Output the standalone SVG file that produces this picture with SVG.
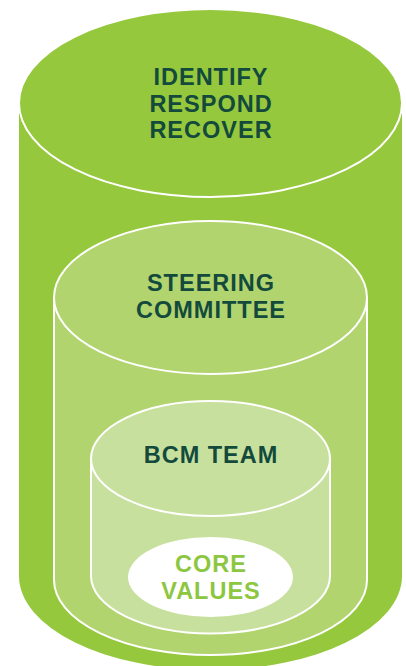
<svg xmlns="http://www.w3.org/2000/svg" width="406" height="666" viewBox="0 0 406 666">
<style>
.lbl{font-family:"Liberation Sans",Arial,sans-serif;font-weight:bold;font-size:23.5px;fill:#134a3c;text-anchor:middle;letter-spacing:1px}
.core{fill:#8dc63f}
.ln{stroke:#fff;stroke-width:2}
</style>
<rect width="406" height="666" fill="#fff"/>
<g id="outer">
<path d="M19,103 L19,576 A191.5,94 0 0 0 402,576 L402,103 Z" fill="#95c83c"/>
<ellipse cx="210.5" cy="103" rx="191.5" ry="94" fill="#95c83c" class="ln"/>
<text class="lbl" x="211" y="85">IDENTIFY</text>
<text class="lbl" x="211" y="111.5">RESPOND</text>
<text class="lbl" x="211" y="138">RECOVER</text>
</g>
<g id="steering">
<path d="M54,297.5 L54,580 A156.5,75 0 0 0 367,580 L367,297.5" fill="#b1d46f" class="ln"/>
<ellipse cx="210.5" cy="297.5" rx="156.5" ry="76.5" fill="#b1d46f" class="ln"/>
<text class="lbl" x="211" y="291">STEERING</text>
<text class="lbl" x="211" y="317.5">COMMITTEE</text>
</g>
<g id="bcm">
<path d="M91,458.5 L91,576 A119.5,57.5 0 0 0 330,576 L330,458.5" fill="#c8e09e" class="ln"/>
<ellipse cx="210.5" cy="458.5" rx="119.5" ry="57.5" fill="#c8e09e" class="ln"/>
<text class="lbl" x="211" y="463">BCM TEAM</text>
</g>
<g id="core">
<ellipse cx="210.5" cy="577" rx="82.5" ry="40" fill="#fff"/>
<text class="lbl core" x="211" y="572">CORE</text>
<text class="lbl core" x="211" y="599">VALUES</text>
</g>
<g id="connectors"/>
</svg>
